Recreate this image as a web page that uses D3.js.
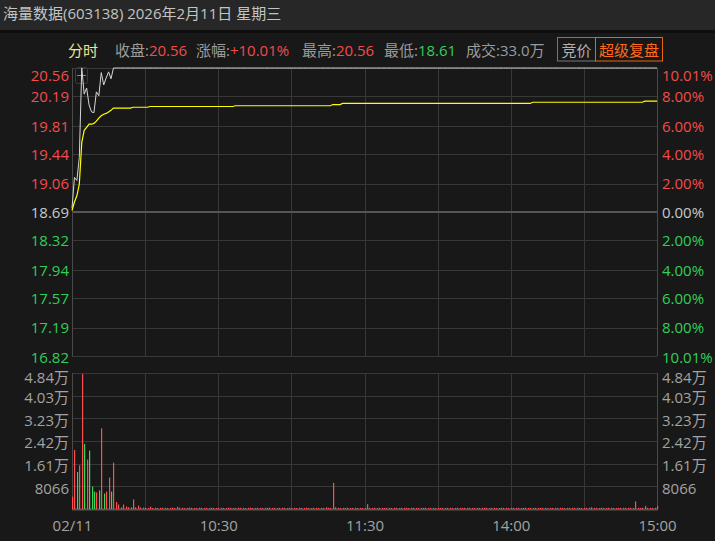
<!DOCTYPE html>
<html><head><meta charset="utf-8">
<script src="https://cdn.jsdelivr.net/npm/d3@7"></script>
<style>
html,body{margin:0;padding:0;background:#181818;overflow:hidden}
svg{display:block;font-family:"Open Sans","Noto Sans CJK SC",sans-serif}
</style></head><body>
<svg id="c" width="715" height="541"></svg>
<script>
// ---------- data ----------
const titleText = "海量数据(603138) 2026年2月11日 星期三";
const closePrice = "20.56", changePct = "+10.01%", highPrice = "20.56", lowPrice = "18.61", turnover = "33.0万";
const prevClose = 18.69;
const priceTicks = [20.56,20.19,19.81,19.44,19.06,18.69,18.32,17.94,17.57,17.19,16.82];
const pctTicks = ["10.01%","8.00%","6.00%","4.00%","2.00%","0.00%","2.00%","4.00%","6.00%","8.00%","10.01%"];
const volTicks = [48396,40330,32264,24198,16132,8066];
const volTickLabels = ["4.84万","4.03万","3.23万","2.42万","1.61万","8066"];
const gridMinutes = [0,30,60,90,120,150,180,210,240];
const timeTicks = [0,60,120,180,240];
const timeLabels = ["02/11","10:30","11:30","14:00","15:00"];

const price = [
18.74,19.14,19.10,19.40,20.56,20.22,20.30,20.08,19.99,19.98,
20.25,20.20,20.50,20.34,20.43,20.51,20.42,20.56,20.56,20.56,
20.56,20.56,20.56,20.56,20.56,20.56,20.56,20.56,20.56,20.56,
20.56,20.56,20.56,20.56,20.56,20.56,20.56,20.56,20.56,20.56,
20.56,20.56,20.56,20.56,20.56,20.56,20.56,20.56,20.56,20.56,
20.56,20.56,20.56,20.56,20.56,20.56,20.56,20.56,20.56,20.56,
20.56,20.56,20.56,20.56,20.56,20.56,20.56,20.56,20.56,20.56,
20.56,20.56,20.56,20.56,20.56,20.56,20.56,20.56,20.56,20.56,
20.56,20.56,20.56,20.56,20.56,20.56,20.56,20.56,20.56,20.56,
20.56,20.56,20.56,20.56,20.56,20.56,20.56,20.56,20.56,20.56,
20.56,20.56,20.56,20.56,20.56,20.56,20.56,20.56,20.56,20.56,
20.56,20.56,20.56,20.56,20.56,20.56,20.56,20.56,20.56,20.56,
20.56,20.56,20.56,20.56,20.56,20.56,20.56,20.56,20.56,20.56,
20.56,20.56,20.56,20.56,20.56,20.56,20.56,20.56,20.56,20.56,
20.56,20.56,20.56,20.56,20.56,20.56,20.56,20.56,20.56,20.56,
20.56,20.56,20.56,20.56,20.56,20.56,20.56,20.56,20.56,20.56,
20.56,20.56,20.56,20.56,20.56,20.56,20.56,20.56,20.56,20.56,
20.56,20.56,20.56,20.56,20.56,20.56,20.56,20.56,20.56,20.56,
20.56,20.56,20.56,20.56,20.56,20.56,20.56,20.56,20.56,20.56,
20.56,20.56,20.56,20.56,20.56,20.56,20.56,20.56,20.56,20.56,
20.56,20.56,20.56,20.56,20.56,20.56,20.56,20.56,20.56,20.56,
20.56,20.56,20.56,20.56,20.56,20.56,20.56,20.56,20.56,20.56,
20.56,20.56,20.56,20.56,20.56,20.56,20.56,20.56,20.56,20.56,
20.56,20.56,20.56,20.56,20.56,20.56,20.56,20.56,20.56,20.56,
20.56];

const avgPrice = [
18.71,18.82,18.90,19.05,19.59,19.75,19.79,19.83,19.83,19.84,
19.87,19.91,19.94,19.96,19.97,19.99,20.01,20.04,20.04,20.04,
20.04,20.04,20.04,20.04,20.04,20.05,20.05,20.05,20.05,20.05,
20.05,20.05,20.06,20.06,20.06,20.06,20.06,20.06,20.06,20.06,
20.06,20.06,20.06,20.06,20.06,20.06,20.06,20.06,20.06,20.06,
20.06,20.06,20.06,20.06,20.06,20.06,20.06,20.06,20.06,20.06,
20.06,20.06,20.06,20.06,20.06,20.06,20.06,20.07,20.07,20.07,
20.07,20.07,20.07,20.07,20.07,20.07,20.07,20.07,20.07,20.07,
20.07,20.07,20.07,20.07,20.07,20.07,20.07,20.07,20.07,20.07,
20.07,20.07,20.07,20.07,20.07,20.07,20.07,20.07,20.07,20.07,
20.07,20.07,20.07,20.07,20.07,20.07,20.07,20.085,20.085,20.085,
20.085,20.10,20.10,20.10,20.10,20.10,20.10,20.10,20.10,20.10,
20.10,20.10,20.10,20.10,20.10,20.10,20.10,20.10,20.10,20.10,
20.10,20.10,20.10,20.10,20.10,20.10,20.10,20.10,20.10,20.10,
20.10,20.10,20.10,20.10,20.10,20.10,20.10,20.10,20.10,20.10,
20.10,20.10,20.10,20.10,20.10,20.10,20.10,20.10,20.10,20.10,
20.10,20.10,20.10,20.10,20.10,20.10,20.10,20.10,20.10,20.10,
20.10,20.10,20.10,20.10,20.10,20.10,20.10,20.10,20.10,20.10,
20.10,20.10,20.10,20.10,20.10,20.10,20.10,20.10,20.10,20.115,
20.115,20.115,20.115,20.115,20.115,20.115,20.115,20.115,20.115,20.115,
20.115,20.115,20.115,20.115,20.115,20.115,20.115,20.115,20.115,20.115,
20.115,20.115,20.115,20.115,20.115,20.115,20.115,20.115,20.115,20.115,
20.115,20.115,20.115,20.115,20.115,20.115,20.115,20.115,20.115,20.115,
20.115,20.115,20.115,20.115,20.115,20.13,20.13,20.13,20.13,20.13,
20.13];

const volume = [
4400,21000,13200,15500,48000,23100,17600,20800,8000,6200,
5900,6600,28700,5500,6200,11200,6200,16500,2500,1600,
600,1600,900,600,600,3400,600,1200,500,500,
420,380,820,360,450,330,410,470,390,340,
400,460,380,790,440,410,350,390,460,420,
330,380,450,400,360,410,300,440,390,350,
400,430,370,320,450,410,380,360,470,420,
390,340,410,450,380,360,430,400,350,420,
390,460,370,410,330,400,440,380,360,420,
390,410,350,430,400,370,450,380,340,420,
410,360,400,390,620,430,380,9300,600,410,
350,400,380,420,360,390,430,370,400,380,
350,1700,400,380,420,360,410,390,350,430,
400,370,420,380,360,410,440,390,350,400,
420,380,370,410,390,430,360,400,380,350,
420,390,410,370,400,430,360,380,420,400,
350,410,390,440,370,400,380,360,420,410,
390,350,400,430,380,370,410,390,400,360,
420,380,410,390,350,400,430,370,400,390,
420,360,380,410,400,350,430,390,370,400,
420,380,360,410,390,440,370,400,380,350,
410,390,420,600,380,400,370,410,390,360,
430,400,380,350,410,390,420,370,400,380,
360,2700,410,390,420,1100,380,400,360,410,
1100];

// ---------- layout ----------
const L = 72, R = 657, pTop = 68, pBot = 356, vTop = 373, vBot = 509;
const RED = "#f24b4b", GREEN = "#2fcf58", BAR_RED = "#ff5050", BAR_GREEN = "#35d65a";
const GRID = "#383838", TXT = "#a3a3a3";

const svg = d3.select("#c");
// backgrounds
svg.append("rect").attr("x",0).attr("y",0).attr("width",715).attr("height",541).attr("fill","#181818");
svg.append("rect").attr("x",0).attr("y",0).attr("width",715).attr("height",30).attr("fill","#272727");
svg.append("rect").attr("x",0).attr("y",30).attr("width",715).attr("height",3).attr("fill","#0e0e0e");

svg.append("text").attr("x",3).attr("y",19).attr("font-size",15).attr("fill","#c4c4c4").text(titleText);

// info row
const info = svg.append("g").attr("font-size",15);
info.append("text").attr("x",68).attr("y",56).attr("fill","#efe58f").text("分时");
function infoItem(x, label, val, col){
  const t = info.append("text").attr("x",x).attr("y",56).attr("fill","#9c9c9c");
  t.append("tspan").text(label);
  if (val) t.append("tspan").attr("fill",col).text(val);
}
infoItem(115,"收盘:",closePrice,RED);
infoItem(196,"涨幅:",changePct,RED);
infoItem(302,"最高:",highPrice,RED);
infoItem(384,"最低:",lowPrice,GREEN);
infoItem(466,"成交:"+turnover,null,null);
info.append("rect").attr("x",557.5).attr("y",37.5).attr("width",38).attr("height",23.5).attr("fill","none").attr("stroke","#767676");
info.append("text").attr("x",576.5).attr("y",55.5).attr("text-anchor","middle").attr("fill","#b0b0b0").text("竞价");
info.append("rect").attr("x",595.5).attr("y",37.5).attr("width",67).attr("height",23.5).attr("fill","none").attr("stroke","#e8650f");
info.append("text").attr("x",629).attr("y",55.5).attr("text-anchor","middle").attr("fill","#ff6a1c").text("超级复盘");

// scales
const x = d3.scaleLinear().domain([0,240]).range([L,R]);
const y = d3.scaleLinear().domain([16.82,20.56]).range([pBot,pTop]);
const yv = d3.scaleLinear().domain([0,48396]).range([vBot,vTop]);
const crisp = v => Math.round(v) + 0.5;

// grids
const grid = svg.append("g").attr("stroke",GRID).attr("stroke-width",1).attr("fill","none");
priceTicks.forEach(p => {
  grid.append("line").attr("x1",L).attr("x2",R).attr("y1",crisp(y(p))).attr("y2",crisp(y(p)));
});
volTicks.forEach(v => {
  grid.append("line").attr("x1",L).attr("x2",R).attr("y1",crisp(yv(v))).attr("y2",crisp(yv(v)));
});
gridMinutes.forEach(m => {
  const xx = crisp(x(m));
  grid.append("line").attr("x1",xx).attr("x2",xx).attr("y1",pTop).attr("y2",pBot);
  grid.append("line").attr("x1",xx).attr("x2",xx).attr("y1",vTop).attr("y2",vBot);
});
// emphasised lines
svg.append("line").attr("x1",L).attr("x2",R).attr("y1",Math.round(y(prevClose))).attr("y2",Math.round(y(prevClose))).attr("stroke","#555").attr("stroke-width",2);
svg.append("line").attr("x1",L).attr("x2",R+1).attr("y1",vBot+0.5).attr("y2",vBot+0.5).attr("stroke","#555").attr("stroke-width",2);
[L, R].forEach(xx => {
  svg.append("line").attr("x1",crisp(xx)).attr("x2",crisp(xx)).attr("y1",pTop).attr("y2",pBot).attr("stroke","#4a4a4a");
  svg.append("line").attr("x1",crisp(xx)).attr("x2",crisp(xx)).attr("y1",vTop).attr("y2",vBot).attr("stroke","#4a4a4a");
});

// crosshair icon
const ic = svg.append("g");
ic.append("rect").attr("x",75.5).attr("y",67.5).attr("width",12).attr("height",16).attr("rx",2).attr("fill","none").attr("stroke","#3c3c3c");
ic.append("line").attr("x1",77).attr("x2",86).attr("y1",75.5).attr("y2",75.5).attr("stroke","#8a8a8a");
ic.append("line").attr("x1",81.5).attr("x2",81.5).attr("y1",71).attr("y2",80).attr("stroke","#8a8a8a");

// volume bars
svg.append("g").selectAll("rect").data(volume).join("rect")
  .attr("x",(d,i) => Math.round(x(i)))
  .attr("width",1.2)
  .attr("y",d => yv(d))
  .attr("height",d => vBot - yv(d))
  .attr("fill",(d,i) => {
    const prev = i === 0 ? prevClose : price[i-1];
    return price[i] >= prev ? BAR_RED : BAR_GREEN;
  });

// lines
const line = d3.line().x((d,i) => x(i)).y(d => y(d));
svg.append("path").datum(price).attr("d",line).attr("fill","none").attr("stroke","#d6d6d6").attr("stroke-width",1);
svg.append("path").datum(avgPrice).attr("d",line).attr("fill","none").attr("stroke","#ffff00").attr("stroke-width",1.2);

// axes
function styleAxis(g){
  g.select(".domain").remove();
  g.selectAll("text").attr("font-size",15).attr("font-family",'"Open Sans","Noto Sans CJK SC",sans-serif');
}
const n = priceTicks.length, mid = 5;
const colorFor = i => i < mid ? RED : (i === mid ? "#c3c9d0" : GREEN);

const ax1 = svg.append("g").attr("transform",`translate(${L},0)`)
  .call(d3.axisLeft(y).tickValues(priceTicks).tickSize(0).tickPadding(3).tickFormat(d3.format(".2f")));
styleAxis(ax1);
ax1.selectAll("text").attr("fill",(d,i) => colorFor(i)).attr("dy","0.36em")
  .attr("transform",(d,i) => i === 0 ? "translate(0,7)" : (i === n-1 ? "translate(0,1.5)" : null));

const ax2 = svg.append("g").attr("transform",`translate(${R},0)`)
  .call(d3.axisRight(y).tickValues(priceTicks).tickSize(0).tickPadding(5).tickFormat((d,i) => pctTicks[i]));
styleAxis(ax2);
ax2.selectAll("text").attr("fill",(d,i) => colorFor(i)).attr("dy","0.36em")
  .attr("transform",(d,i) => i === 0 ? "translate(0,7)" : (i === n-1 ? "translate(0,1.5)" : null));

const ax3 = svg.append("g").attr("transform",`translate(${L},0)`)
  .call(d3.axisLeft(yv).tickValues(volTicks).tickSize(0).tickPadding(3).tickFormat((d,i) => volTickLabels[i]));
styleAxis(ax3);
ax3.selectAll("text").attr("fill",TXT).attr("dy","0.36em")
  .attr("transform",(d,i) => i === 0 ? "translate(0,4.5)" : "translate(0,1.5)");

const ax4 = svg.append("g").attr("transform",`translate(${R},0)`)
  .call(d3.axisRight(yv).tickValues(volTicks).tickSize(0).tickPadding(5).tickFormat((d,i) => volTickLabels[i]));
styleAxis(ax4);
ax4.selectAll("text").attr("fill",TXT).attr("dy","0.36em")
  .attr("transform",(d,i) => i === 0 ? "translate(0,4.5)" : "translate(0,1.5)");

const ax5 = svg.append("g").attr("transform",`translate(0,${vBot})`)
  .call(d3.axisBottom(x).tickValues(timeTicks).tickSize(0).tickPadding(11).tickFormat((d,i) => timeLabels[i]));
styleAxis(ax5);
ax5.selectAll("text").attr("fill",TXT);
</script>
</body></html>
